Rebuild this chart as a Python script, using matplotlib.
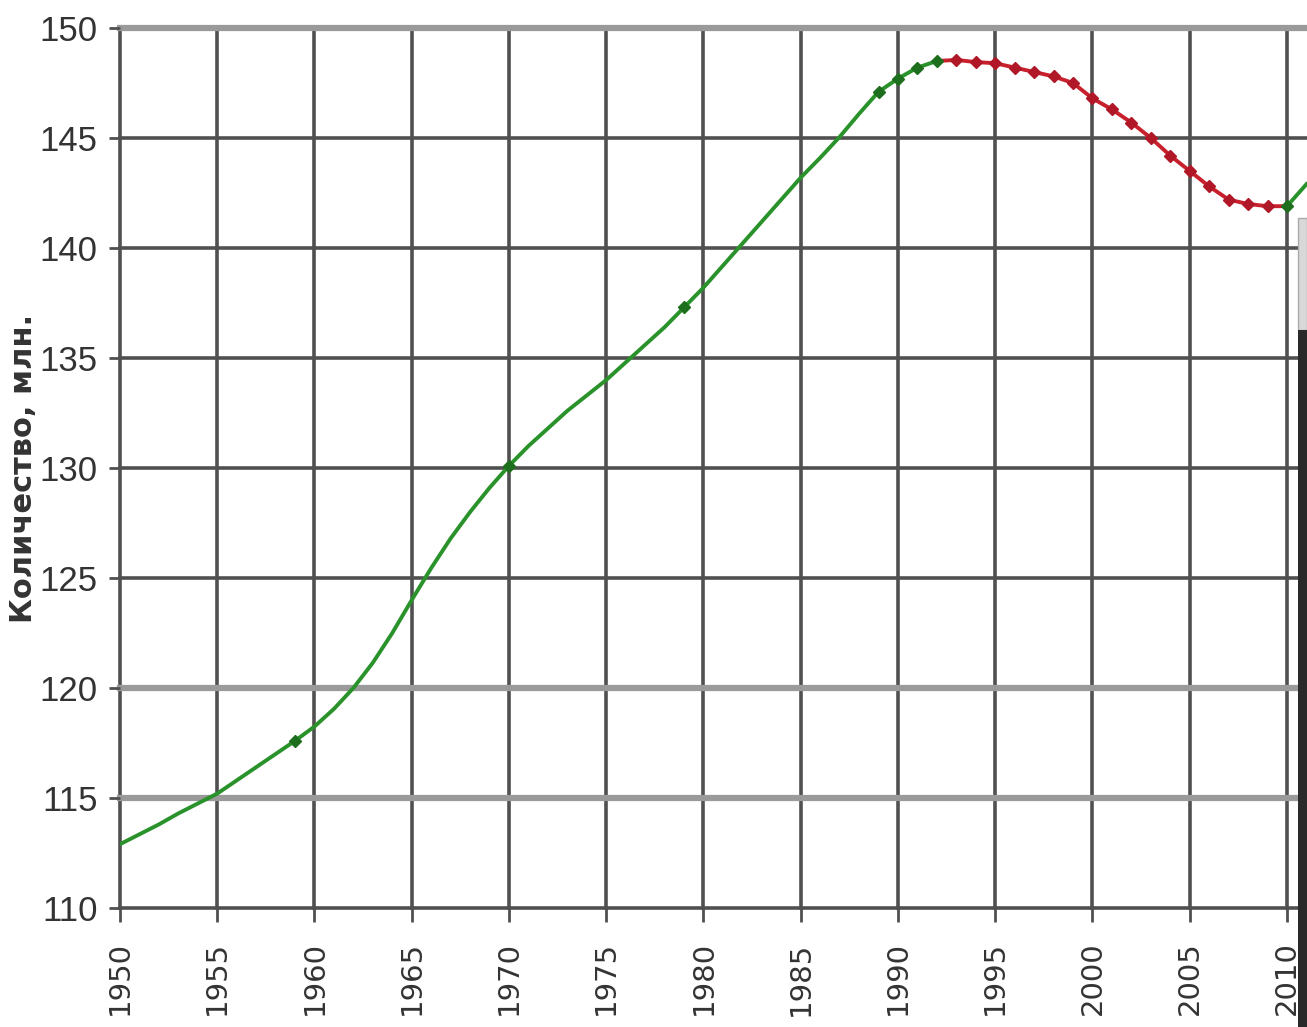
import numpy as np
import matplotlib.pyplot as plt
from matplotlib.patches import Rectangle

# population of Russia, millions
years = list(range(1950, 2012))
population = [112.9, 113.35, 113.8, 114.3, 114.75, 115.2, 115.8, 116.4, 117.0, 117.6,
              118.25, 119.05, 120.0, 121.15, 122.5, 124.0, 125.45, 126.8, 128.0, 129.1,
              130.1, 131.0, 131.8, 132.6, 133.3, 134.0, 134.8, 135.6, 136.4, 137.3,
              138.2, 139.2, 140.2, 141.2, 142.2, 143.2, 144.1, 145.05, 146.1, 147.1,
              147.7, 148.2, 148.5, 148.55, 148.45, 148.4, 148.2, 148.0, 147.8, 147.5,
              146.8, 146.3, 145.7, 145.0, 144.2, 143.5, 142.8, 142.2, 142.0, 141.9,
              141.9, 142.9]
census_years = [1959, 1970, 1979, 1989, 1990, 1991, 1992, 2010]
estimate_years = list(range(1993, 2010))
x_ticks = list(range(1950, 2011, 5))
y_ticks = list(range(110, 151, 5))

yrs = np.array(years)
pop = np.array(population)

fig = plt.figure(figsize=(13.07, 10.27), dpi=100)
ax = fig.add_axes([120 / 1307, 119 / 1027, 1187 / 1307, 880 / 1027])

# grid
ax.set_xticks(x_ticks)
ax.set_yticks(y_ticks)
ax.grid(True, color='#505050', lw=2.6, zorder=0)
for val, gl in zip(y_ticks, ax.get_ygridlines()):
    gl.set_clip_on(False)
    if val in (115, 120, 150):
        gl.set_color('#9a9a9a')
        gl.set_linewidth(4.5)
for gl in ax.get_xgridlines():
    gl.set_clip_on(False)
for s in ax.spines.values():
    s.set_visible(False)

green = (yrs <= 1992)
ax.plot(yrs[green], pop[green], color='#2a922a', lw=2.8, zorder=3)
red = (yrs >= 1992) & (yrs <= 2010)
ax.plot(yrs[red], pop[red], color='#c8202c', lw=2.8, zorder=3)
tail = yrs >= 2010
ax.plot(yrs[tail], pop[tail], color='#2a922a', lw=2.8, zorder=3)

cm = np.isin(yrs, census_years)
ax.plot(yrs[cm], pop[cm], ls='none', marker='D', ms=6, color='#1d6e1d', zorder=4)
em = np.isin(yrs, estimate_years)
ax.plot(yrs[em], pop[em], ls='none', marker='D', ms=6, color='#b01828', zorder=4)

ax.set_xlim(1950, 2011.03)
ax.set_ylim(110, 150)

ax.tick_params(axis='y', length=8, width=2, color='#505050', pad=8,
               labelsize=25, labelcolor='#333333')
ax.tick_params(axis='x', length=10, width=2, color='#505050', pad=14,
               labelsize=21, labelcolor='#333333', labelrotation=90)
for lab in ax.get_yticklabels():
    lab.set_family(['Liberation Sans Narrow', 'Liberation Sans', 'DejaVu Sans'])

fig.text(24 / 1307, 1 - 468 / 1027, 'Количество, млн.', rotation=90,
         ha='center', va='center', fontsize=22, fontweight='bold', color='#333333')

# edge of an overlapping picture on the right
fig.patches.append(Rectangle((1298 / 1307, 1 - 330 / 1027), 9 / 1307, 112 / 1027,
                             transform=fig.transFigure, facecolor='#d8d8d8',
                             edgecolor='#aaaaaa', lw=1))
fig.patches.append(Rectangle((1298 / 1307, 0), 9 / 1307, 1 - 330 / 1027,
                             transform=fig.transFigure, facecolor='#2a2a2a', lw=0))

fig.savefig('out.png', dpi=100)
